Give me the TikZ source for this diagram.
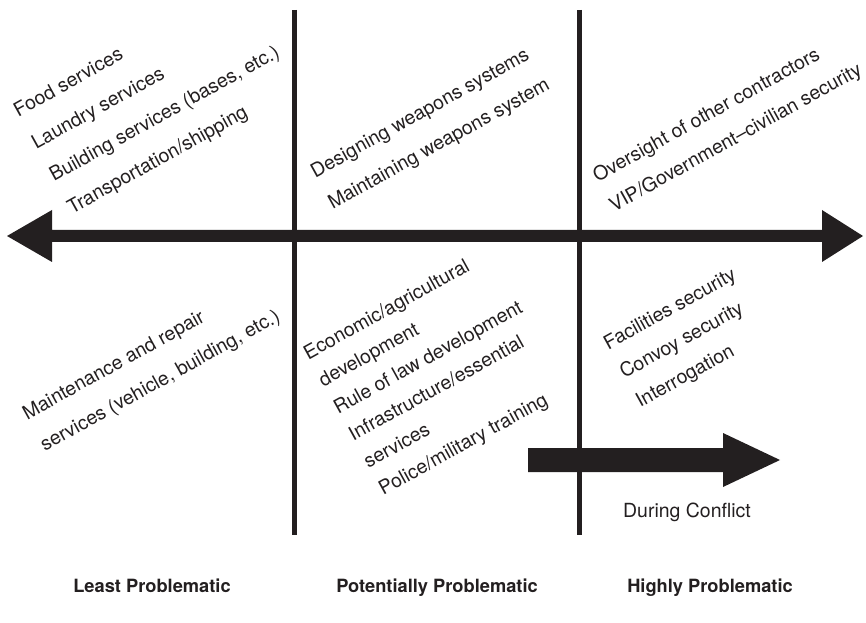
\documentclass[tikz,border=0pt]{standalone}
\usepackage{fontspec}
\setmainfont{TeX Gyre Heros}
\usepackage{amsmath}
\usepackage{tikz}
\definecolor{ink}{RGB}{35,31,32}

\begin{document}
\begin{tikzpicture}[x=0.75pt,y=0.75pt,yscale=-1,xscale=1]
\path[use as bounding box] (0,0) rectangle (866,623); %set diagram to the size of the reference

%Shapes [id:main arrow, both ways] 
\fill [color=ink] (7,236) -- (52,210) -- (52,230) -- (822,230) -- (822,210) -- (863,236) -- (822,262) -- (822,242) -- (52,242) -- (52,262) -- cycle ;
%Shapes [id:conflict arrow] 
\fill [color=ink] (528,448) -- (723,448) -- (723,433) -- (780,460) -- (723,487) -- (723,472) -- (528,472) -- cycle ;
%Straight Lines [id:left divider] 
\draw [color=ink, line width=3.75pt]  (294,10) -- (294,535) ;
%Straight Lines [id:right divider] 
\draw [color=ink, line width=3.75pt]  (579,10) -- (579,535) ;

% Text Node
\draw (11.1,104.6) node [anchor=north west, inner sep=0, rotate=29, align=left, color=ink, font={\fontsize{14.6pt}{27.75pt}\selectfont}] (leastUp) {Food services\\Laundry services\\Building services (bases, etc.)\\Transportation/shipping};
% Text Node
\draw (308.1,165.6) node [anchor=north west, inner sep=0, rotate=29, align=left, color=ink, font={\fontsize{14.6pt}{27pt}\selectfont}] (potUp) {Designing weapons systems\\Maintaining weapons system};
% Text Node
\draw (590.1,169.6) node [anchor=north west, inner sep=0, rotate=29, align=left, color=ink, font={\fontsize{14.6pt}{25.5pt}\selectfont}] (highUp) {Oversight of other contractors\\VIP/Government--civilian security};
% Text Node
\draw (20.1,407.6) node [anchor=north west, inner sep=0, rotate=29, align=left, color=ink, font={\fontsize{14.6pt}{27pt}\selectfont}] (leastLow) {Maintenance and repair\\services (vehicle, building, etc.)};
% Text Node
\draw (301.1,347.6) node [anchor=north west, inner sep=0, rotate=29, align=left, color=ink, font={\fontsize{14.6pt}{23.25pt}\selectfont}] (potLow) {Economic/agricultural\\development\\Rule of law development\\Infrastructure/essential\\services\\Police/military training};
% Text Node
\draw (601.1,337.6) node [anchor=north west, inner sep=0, rotate=29, align=left, color=ink, font={\fontsize{14.6pt}{24.75pt}\selectfont}] (highLow) {Facilities security\\Convoy security\\Interrogation};

% Text Node
\draw (687,517) node [anchor=base, inner sep=0, color=ink, font={\fontsize{14.6pt}{17pt}\selectfont}] (conflict) {During Conflict};
% Text Node
\draw (152,592) node [anchor=base, inner sep=0, color=ink, font={\fontsize{13.7pt}{16pt}\selectfont\bfseries}] (leastLbl) {Least Problematic};
% Text Node
\draw (437,592) node [anchor=base, inner sep=0, color=ink, font={\fontsize{13.7pt}{16pt}\selectfont\bfseries}] (potLbl) {Potentially Problematic};
% Text Node
\draw (710,592) node [anchor=base, inner sep=0, color=ink, font={\fontsize{13.7pt}{16pt}\selectfont\bfseries}] (highLbl) {Highly Problematic};

\end{tikzpicture}
\end{document}
